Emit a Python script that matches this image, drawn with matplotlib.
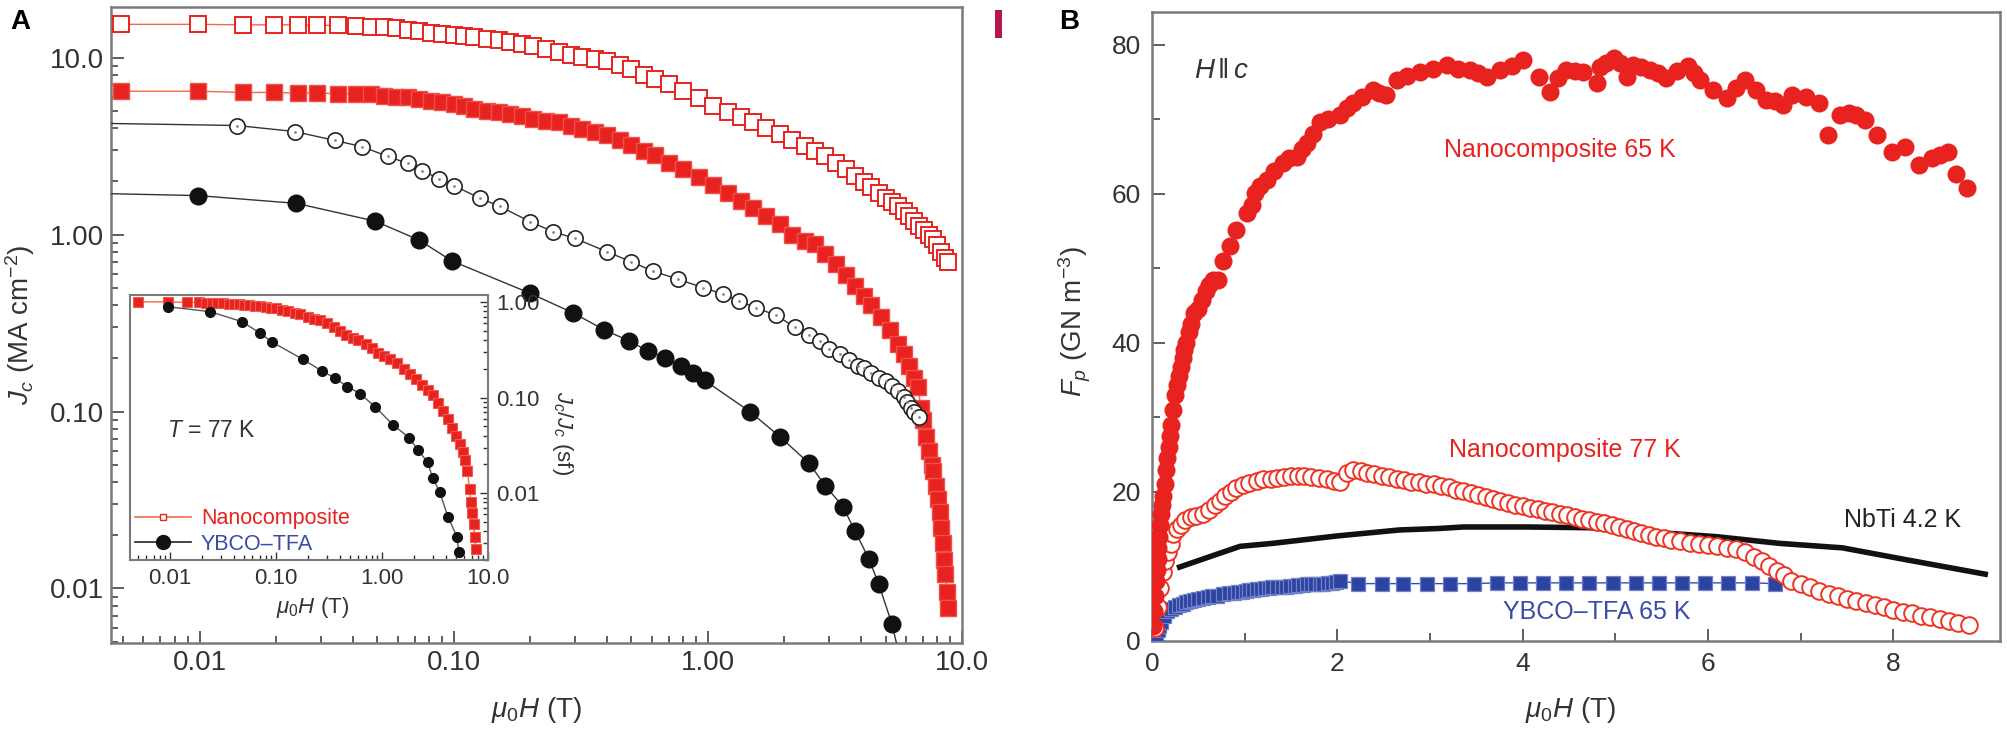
import matplotlib
matplotlib.use("Agg")
import matplotlib.pyplot as plt
from matplotlib import font_manager
from matplotlib.lines import Line2D
from matplotlib.patches import Rectangle
from matplotlib.ticker import LogLocator, NullFormatter, FixedLocator

# ---------------- fonts ----------------
def _has(fam):
    try:
        font_manager.findfont(font_manager.FontProperties(family=fam), fallback_to_default=False)
        return True
    except Exception:
        return False

NARROW = "Liberation Sans Narrow" if _has("Liberation Sans Narrow") else "Liberation Sans"
plt.rcParams['font.family'] = [NARROW, 'DejaVu Sans']
plt.rcParams['mathtext.fontset'] = 'custom'
plt.rcParams['mathtext.rm'] = NARROW
plt.rcParams['mathtext.it'] = NARROW + ':italic'
plt.rcParams['mathtext.bf'] = NARROW + ':bold'

# ---------------- data: panel A (main) ----------------
# Nanocomposite, 65 K (open red squares)
H_nano65 = [0.0049, 0.0098, 0.0148, 0.0196, 0.0243, 0.029, 0.035, 0.041, 0.047, 0.053, 0.059, 0.066,
            0.073, 0.081, 0.09, 0.10, 0.11, 0.12, 0.135, 0.15, 0.166, 0.185, 0.205, 0.23, 0.26, 0.29,
            0.32, 0.36, 0.40, 0.45, 0.50, 0.56, 0.62, 0.70, 0.80, 0.92, 1.05, 1.2, 1.35, 1.5, 1.7,
            1.92, 2.15, 2.4, 2.65, 2.9, 3.2, 3.5, 3.8, 4.1, 4.4, 4.7, 5.0, 5.3, 5.6, 5.9, 6.2, 6.5,
            6.8, 7.1, 7.4, 7.7, 8.0, 8.3, 8.6, 8.8]
Jc_nano65 = [15.4, 15.4, 15.3, 15.3, 15.3, 15.2, 15.2, 15.1, 14.9, 14.8, 14.6, 14.4,
             14.1, 13.8, 13.6, 13.4, 13.2, 13.0, 12.7, 12.5, 12.3, 11.9, 11.6, 11.2, 10.8, 10.4,
             10.1, 9.8, 9.5, 9.1, 8.6, 8.0, 7.6, 7.1, 6.5, 5.9, 5.35, 4.9, 4.6, 4.3, 4.0,
             3.7, 3.4, 3.15, 2.95, 2.78, 2.55, 2.35, 2.15, 1.99, 1.85, 1.72, 1.61, 1.52, 1.44, 1.35, 1.27, 1.19,
             1.12, 1.06, 1.0, 0.94, 0.87, 0.80, 0.74, 0.70]

# Nanocomposite, 77 K (filled red squares)
H_nano77 = [0.0049, 0.0098, 0.0148, 0.0196, 0.0243, 0.029, 0.035, 0.041, 0.047, 0.053, 0.059, 0.066,
            0.073, 0.081, 0.09, 0.10, 0.11, 0.12, 0.135, 0.15, 0.166, 0.185, 0.205, 0.23, 0.26, 0.29,
            0.32, 0.36, 0.40, 0.45, 0.50, 0.56, 0.62, 0.70, 0.80, 0.92, 1.05, 1.2, 1.35, 1.5, 1.7,
            1.92, 2.15, 2.4, 2.65, 2.9, 3.2, 3.5, 3.8, 4.1, 4.4, 4.8, 5.2, 5.6, 5.9, 6.2, 6.5, 6.7,
            6.9, 7.0, 7.2, 7.4, 7.6, 7.7, 7.9, 8.05, 8.2, 8.3, 8.4, 8.5, 8.6, 8.7, 8.8]
Jc_nano77 = [6.45, 6.45, 6.35, 6.35, 6.3, 6.3, 6.25, 6.25, 6.2, 6.1, 6.0, 5.95,
             5.85, 5.7, 5.6, 5.45, 5.3, 5.15, 5.0, 4.9, 4.8, 4.65, 4.5, 4.4, 4.3, 4.1,
             3.95, 3.8, 3.65, 3.4, 3.2, 2.95, 2.8, 2.55, 2.35, 2.1, 1.9, 1.72, 1.55, 1.42, 1.27,
             1.15, 1.0, 0.92, 0.88, 0.78, 0.68, 0.59, 0.51, 0.45, 0.40, 0.34, 0.29, 0.24, 0.21, 0.18, 0.155, 0.137,
             0.105, 0.089, 0.072, 0.06, 0.05, 0.046, 0.038, 0.032, 0.027, 0.022, 0.018, 0.0145, 0.012, 0.0095, 0.0078]

# YBCO-TFA, 65 K (open black circles); first point = line start only
H_ybco65 = [0.0045, 0.014, 0.0236, 0.034, 0.0434, 0.055, 0.066, 0.075, 0.087, 0.10, 0.127, 0.152, 0.20,
            0.245, 0.30, 0.40, 0.50, 0.61, 0.76, 0.96, 1.15, 1.33, 1.55, 1.85, 2.2, 2.5, 2.75, 3.0,
            3.3, 3.6, 3.9, 4.1, 4.4, 4.7, 5.0, 5.3, 5.6, 5.9, 6.1, 6.3, 6.5, 6.8]
Jc_ybco65 = [4.24, 4.13, 3.82, 3.4, 3.14, 2.76, 2.52, 2.3, 2.07, 1.89, 1.6, 1.44, 1.18,
             1.04, 0.95, 0.80, 0.70, 0.62, 0.56, 0.50, 0.46, 0.42, 0.385, 0.35, 0.30, 0.27, 0.25, 0.225,
             0.21, 0.195, 0.18, 0.175, 0.165, 0.155, 0.148, 0.14, 0.13, 0.12, 0.113, 0.105, 0.10, 0.093]

# YBCO-TFA, 77 K (filled black circles); first point = line start, last = line end
H_ybco77 = [0.0045, 0.0098, 0.024, 0.049, 0.073, 0.098, 0.20, 0.295, 0.39, 0.49, 0.58, 0.68, 0.78,
            0.87, 0.97, 1.46, 1.92, 2.5, 2.9, 3.4, 3.8, 4.3, 4.7, 5.3, 5.6]
Jc_ybco77 = [1.70, 1.66, 1.5, 1.19, 0.93, 0.71, 0.465, 0.36, 0.29, 0.25, 0.22, 0.20, 0.18,
             0.164, 0.15, 0.10, 0.072, 0.051, 0.038, 0.029, 0.021, 0.0147, 0.0106, 0.0063, 0.0045]

# ---------------- data: panel A (inset, T = 77 K, normalised) ----------------
H_in_nano = [0.005, 0.0096, 0.0145, 0.019, 0.022, 0.025, 0.028, 0.032, 0.036, 0.04, 0.045, 0.05, 0.056,
             0.063, 0.07, 0.08, 0.09, 0.1, 0.115, 0.13, 0.15, 0.17, 0.2, 0.23, 0.26, 0.3, 0.35, 0.4,
             0.46, 0.53, 0.6, 0.7, 0.8, 0.92, 1.05, 1.2, 1.4, 1.6, 1.85, 2.1, 2.4, 2.7, 3.0, 3.4, 3.8,
             4.2, 4.6, 5.0, 5.4, 5.8, 6.1, 6.4, 6.7, 6.9, 7.1, 7.3, 7.5, 7.7]
r_in_nano = [1.0, 1.0, 0.99, 0.99, 0.98, 0.98, 0.97, 0.97, 0.96, 0.95, 0.94, 0.93, 0.92,
             0.91, 0.9, 0.88, 0.87, 0.86, 0.83, 0.8, 0.77, 0.74, 0.7, 0.67, 0.64, 0.6, 0.55, 0.5,
             0.45, 0.42, 0.4, 0.36, 0.33, 0.29, 0.27, 0.25, 0.23, 0.2, 0.175, 0.155, 0.135, 0.12, 0.105, 0.088, 0.072,
             0.06, 0.048, 0.04, 0.033, 0.027, 0.022, 0.017, 0.011, 0.008, 0.0062, 0.0048, 0.0035, 0.0026]
H_in_ybco = [0.0095, 0.024, 0.048, 0.071, 0.092, 0.18, 0.27, 0.36, 0.47, 0.62, 0.86, 1.27, 1.8,
             2.2, 2.7, 3.0, 3.5, 4.2, 5.1, 5.3]
r_in_ybco = [0.89, 0.79, 0.62, 0.47, 0.38, 0.25, 0.19, 0.16, 0.13, 0.11, 0.08, 0.052, 0.038,
             0.028, 0.021, 0.0145, 0.0103, 0.0056, 0.0035, 0.0024]

# ---------------- data: panel B ----------------
# Nanocomposite 65 K (filled red circles)
H_fp65 = [0.01, 0.02, 0.03, 0.04, 0.05, 0.06, 0.07, 0.08, 0.09, 0.10, 0.11, 0.12, 0.135, 0.15, 0.165,
          0.18, 0.195, 0.21, 0.23, 0.25, 0.27, 0.29, 0.31, 0.33, 0.35, 0.37, 0.40, 0.42, 0.45, 0.50,
          0.54, 0.58, 0.62, 0.66, 0.71, 0.77, 0.84, 0.91, 1.02, 1.08, 1.11, 1.17, 1.24, 1.32, 1.41,
          1.48, 1.56, 1.62, 1.67, 1.74, 1.81, 1.9, 2.03, 2.1, 2.17, 2.27, 2.38, 2.45, 2.53, 2.64,
          2.75, 2.89, 3.03, 3.18, 3.3, 3.43, 3.52, 3.61, 3.75, 3.88, 4.0, 4.18, 4.29, 4.38, 4.47,
          4.56, 4.65, 4.8, 4.83, 4.9, 4.99, 5.05, 5.12, 5.19, 5.28, 5.37, 5.46, 5.55, 5.66, 5.78,
          5.85, 5.91, 6.05, 6.2, 6.3, 6.4, 6.52, 6.63, 6.72, 6.81, 6.91, 7.06, 7.2, 7.29, 7.42,
          7.52, 7.6, 7.69, 7.82, 7.99, 8.12, 8.28, 8.42, 8.5, 8.59, 8.68, 8.79]
Fp_fp65 = [2, 4, 6, 8, 9.5, 11, 12.5, 14, 15.5, 17, 18.3, 19.5, 21, 23, 24.5,
           26, 27.5, 29, 31, 33, 34.3, 35.5, 36.8, 38, 39, 40, 41.5, 42.5, 44, 44.5,
           45.8, 47, 47.8, 48.5, 48.5, 51, 53, 55.2, 57.4, 58.5, 60.1, 61, 61.9, 63, 64.2,
           64.8, 65, 66, 66.8, 68, 69.7, 70, 70.6, 71.5, 72.2, 73, 74, 73.5, 73.3, 75.3,
           75.8, 76.4, 76.8, 77.3, 76.8, 76.6, 76.2, 75.7, 76.6, 77.2, 78, 75.7, 73.7, 75.5, 76.6,
           76.5, 76.4, 74.9, 77, 77.6, 78.2, 77.5, 75.7, 77.3, 77, 76.6, 76.2, 75.6, 76.5, 77.1,
           76.2, 75.3, 74, 72.9, 74.2, 75.3, 74, 72.6, 72.4, 71.9, 73.3, 73, 72.2, 67.9, 70.6,
           70.8, 70.6, 69.9, 67.9, 65.6, 66.3, 63.9, 64.8, 65.2, 65.6, 62.6, 60.8]

# Nanocomposite 77 K (open red circles)
H_fp77 = [0.03, 0.06, 0.09, 0.12, 0.14, 0.17, 0.20, 0.23, 0.27, 0.31, 0.36, 0.42, 0.48, 0.55, 0.62,
          0.68, 0.73, 0.79, 0.85, 0.91, 0.98, 1.05, 1.13, 1.2, 1.28, 1.35, 1.42, 1.5, 1.57, 1.64,
          1.72, 1.8, 1.89, 1.96, 2.03, 2.1, 2.17, 2.25, 2.32, 2.4, 2.48, 2.56, 2.64, 2.72, 2.8,
          2.88, 2.96, 3.04, 3.12, 3.2, 3.28, 3.36, 3.44, 3.52, 3.6, 3.68, 3.76, 3.84, 3.92, 4.0,
          4.08, 4.16, 4.24, 4.32, 4.4, 4.48, 4.56, 4.64, 4.72, 4.8, 4.88, 4.96, 5.04, 5.12, 5.2,
          5.28, 5.36, 5.44, 5.52, 5.6, 5.7, 5.8, 5.9, 6.0, 6.1, 6.2, 6.3, 6.4, 6.5, 6.58,
          6.66, 6.74, 6.82, 6.9, 7.0, 7.1, 7.2, 7.3, 7.4, 7.5, 7.6, 7.7, 7.8, 7.9, 8.0,
          8.1, 8.2, 8.3, 8.4, 8.5, 8.6, 8.7, 8.82]
Fp_fp77 = [1.8, 4.5, 7.1, 9.3, 10.7, 12.0, 13.0, 14.4, 15.0, 15.6, 16.3, 16.6, 16.8, 17.0, 17.6,
           18.2, 18.8, 19.4, 20.0, 20.5, 20.9, 21.2, 21.5, 21.7, 21.8, 21.9, 22.0, 22.1, 22.2, 22.1,
           22.0, 21.9, 21.8, 21.5, 21.3, 22.6, 22.9, 22.8, 22.6, 22.4, 22.2, 22.0, 21.8, 21.6, 21.4,
           21.3, 21.1, 21.0, 20.8, 20.6, 20.3, 20.1, 19.8, 19.6, 19.3, 19.0, 18.8, 18.5, 18.3, 18.1,
           17.9, 17.7, 17.5, 17.3, 17.1, 16.9, 16.7, 16.4, 16.2, 16.0, 15.8, 15.5, 15.3, 15.0, 14.8,
           14.5, 14.2, 14.0, 13.8, 13.6, 13.4, 13.2, 13.0, 12.9, 12.7, 12.5, 12.3, 11.9, 11.3, 10.7,
           10.1, 9.4, 8.8, 8.1, 7.6, 7.2, 6.7, 6.3, 6.0, 5.7, 5.4, 5.1, 4.8, 4.5, 4.2,
           3.9, 3.7, 3.4, 3.2, 2.9, 2.7, 2.4, 2.1]

# NbTi 4.2 K (thick black line)
H_nbti = [0.27, 0.62, 0.95, 1.3, 2.0, 2.67, 3.1, 3.36, 4.04, 4.72, 5.4, 6.09, 6.77, 7.45, 8.14, 9.02]
Fp_nbti = [9.8, 11.3, 12.7, 13.1, 14.1, 14.9, 15.1, 15.3, 15.3, 15.2, 14.6, 14.0, 13.1, 12.5, 10.9, 8.9]

# YBCO-TFA 65 K (blue squares)
H_ybcoB = [0.02, 0.04, 0.06, 0.08, 0.10, 0.13, 0.16, 0.2, 0.25, 0.29, 0.33, 0.37, 0.41, 0.45, 0.5,
           0.55, 0.6, 0.65, 0.7, 0.77, 0.83, 0.88, 0.93, 0.97, 1.01, 1.05, 1.09, 1.13, 1.18, 1.22,
           1.26, 1.3, 1.35, 1.4, 1.45, 1.49, 1.54, 1.58, 1.63, 1.67, 1.72, 1.76, 1.81, 1.85, 1.9,
           1.94, 1.99, 2.03, 2.22, 2.48, 2.71, 2.97, 3.22, 3.47, 3.72, 3.97, 4.22, 4.47, 4.72,
           4.97, 5.22, 5.47, 5.72, 5.97, 6.22, 6.47, 6.72]
Fp_ybcoB = [0.6, 1.0, 1.5, 2.0, 2.6, 3.3, 4.0, 4.3, 4.6, 4.8, 5.0, 5.2, 5.4, 5.5, 5.7,
            5.8, 5.9, 6.0, 6.1, 6.3, 6.4, 6.5, 6.6, 6.6, 6.7, 6.8, 6.9, 7.0, 7.0, 7.1,
            7.1, 7.2, 7.2, 7.3, 7.3, 7.4, 7.4, 7.5, 7.5, 7.6, 7.6, 7.6, 7.7, 7.7, 7.8,
            7.8, 7.9, 8.1, 7.7, 7.7, 7.7, 7.7, 7.7, 7.7, 7.8, 7.8, 7.8, 7.8, 7.8,
            7.8, 7.8, 7.8, 7.8, 7.8, 7.8, 7.8, 7.7]

# ---------------- styles ----------------
RED = '#e8231f'
RED_LINE = '#f06a48'
BLUE = '#2d43a0'
BLUE_TXT = '#3a4ca8'
SPINE = '#7a7a7a'
W, Hpx = 2008, 731

fig = plt.figure(figsize=(W / 100, Hpx / 100), dpi=100)


def box(l, r, t, b):
    return [l / W, 1 - b / Hpx, (r - l) / W, (b - t) / Hpx]


# ================= Panel A =================
axA = fig.add_axes(box(111, 962, 7, 643))
axA.set_xscale('log')
axA.set_yscale('log')

axA.plot(H_nano65, Jc_nano65, '-', color=RED_LINE, lw=1.0, marker='s', ms=11.5, mfc='white',
         mec=RED, mew=1.4, zorder=3)
axA.plot(H_nano77, Jc_nano77, '-', color=RED_LINE, lw=1.0, marker='s', ms=11, mfc=RED,
         mec='#f2504a', mew=1.0, zorder=3)
axA.plot(H_ybco65, Jc_ybco65, '-', color='#333333', lw=1.0, marker='o', ms=11, mfc='white',
         mec='#222222', mew=1.2, markevery=slice(1, None), zorder=3)
axA.plot(H_ybco65[1:], Jc_ybco65[1:], ls='none', marker='.', ms=2, color='#888888', zorder=4)
axA.plot(H_ybco77, Jc_ybco77, '-', color='#333333', lw=1.0, marker='o', ms=12, mfc='#111111',
         mec='#111111', markevery=slice(1, -1), zorder=3)

axA.set_xlim(0.00447, 10.0)
axA.set_ylim(0.00492, 19.3)
axA.xaxis.set_major_locator(FixedLocator([0.01, 0.1, 1, 10]))
axA.set_xticklabels(['0.01', '0.10', '1.00', '10.0'])
axA.yaxis.set_major_locator(FixedLocator([0.01, 0.1, 1, 10]))
axA.set_yticklabels(['0.01', '0.10', '1.00', '10.0'])
for axis in (axA.xaxis, axA.yaxis):
    axis.set_minor_locator(LogLocator(base=10, subs=range(2, 10), numticks=20))
    axis.set_minor_formatter(NullFormatter())
axA.tick_params(which='both', direction='in', colors='#333333', labelsize=20,
                top=False, right=False, width=1.1)
axA.tick_params(which='major', length=9, pad=5)
axA.tick_params(which='minor', length=5)
for s in axA.spines.values():
    s.set_color(SPINE)
    s.set_linewidth(1.8)
axA.set_xlabel(r'$\mu_0H$ (T)', fontsize=20, color='#333333')
axA.set_ylabel(r'$J_c$ (MA cm$^{-2}$)', fontsize=20, color='#333333')
axA.xaxis.set_label_coords(0.50, -0.105)
axA.yaxis.set_label_coords(-0.107, 0.5)
axA.xaxis.label.set_va('center')
axA.yaxis.label.set_va('center')

# ---------------- inset ----------------
axI = fig.add_axes(box(130, 488, 295, 560))
axI.set_xscale('log')
axI.set_yscale('log')
axI.plot(H_in_nano, r_in_nano, '-', color=RED_LINE, lw=1.0, marker='s', ms=6.5, mfc=RED,
         mec='#f05a50', mew=0.8, zorder=3)
axI.plot(H_in_ybco, r_in_ybco, '-', color='#555555', lw=1.0, marker='o', ms=7, mfc='#111111',
         mec='#111111', zorder=3)
axI.set_xlim(0.0042, 10.0)
axI.set_ylim(0.002, 1.18)
axI.xaxis.set_major_locator(FixedLocator([0.01, 0.1, 1, 10]))
axI.set_xticklabels(['0.01', '0.10', '1.00', '10.0'])
axI.yaxis.set_major_locator(FixedLocator([0.01, 0.1, 1]))
axI.set_yticklabels(['0.01', '0.10', '1.00'])
for axis in (axI.xaxis, axI.yaxis):
    axis.set_minor_locator(LogLocator(base=10, subs=range(2, 10), numticks=20))
    axis.set_minor_formatter(NullFormatter())
axI.yaxis.tick_right()
axI.tick_params(which='both', direction='in', colors='#333333', labelsize=16, width=1.0,
                left=False, top=False, right=True, labelright=True, labelleft=False)
axI.tick_params(which='major', length=6, pad=6)
axI.tick_params(which='minor', length=3.5)
for s in axI.spines.values():
    s.set_color(SPINE)
    s.set_linewidth(1.5)
axI.set_xlabel(r'$\mu_0H$ (T)', fontsize=16, color='#333333')
axI.xaxis.set_label_coords(0.51, -0.181)
axI.xaxis.label.set_va('center')
axI.yaxis.set_label_position('right')
axI.set_ylabel(r'$J_c/J_c$ (sf)', fontsize=16, color='#333333', rotation=270)
axI.yaxis.set_label_coords(1.209, 0.479)
axI.yaxis.label.set_va('center')
axI.text(0.228, 0.49, r'$T$ = 77 K', transform=axI.transAxes, fontsize=16.5, color='#333333',
         ha='center', va='center')
handles = [Line2D([], [], color=RED_LINE, lw=1.2, marker='s', ms=5, mfc='white', mec=RED),
           Line2D([], [], color='#222222', lw=1.2, marker='o', ms=10, mfc='#111111', mec='#111111')]
leg = axI.legend(handles, ['Nanocomposite', 'YBCO\u2013TFA'], loc='lower left',
                 bbox_to_anchor=(0.015, 0.02), frameon=False, fontsize=15.5, handlelength=2.6,
                 handletextpad=0.45, labelspacing=0.2, borderpad=0, borderaxespad=0,
                 labelcolor=[RED, BLUE_TXT])

# ================= Panel B =================
axB = fig.add_axes(box(1152, 2000, 12, 641))
axB.plot(H_nbti, Fp_nbti, '-', color='#111111', lw=4.0, solid_capstyle='butt', zorder=2)
axB.plot(H_ybcoB, Fp_ybcoB, '-', color=BLUE_TXT, lw=1.0, marker='s', ms=10, mfc=BLUE,
         mec='#6f82c8', mew=0.9, zorder=3)
axB.plot(H_fp77, Fp_fp77, ls='none', marker='o', ms=12, mfc='white', mec='#ee3322', mew=1.4,
         zorder=4)
axB.plot(H_fp65, Fp_fp65, ls='none', marker='o', ms=13, mfc=RED, mec=RED, mew=0, zorder=5)
axB.set_xlim(0, 9.15)
axB.set_ylim(0, 84.4)
axB.set_xticks([0, 2, 4, 6, 8])
axB.set_xticks([1, 3, 5, 7], minor=True)
axB.set_yticks([0, 20, 40, 60, 80])
axB.set_yticks([10, 30, 50, 70], minor=True)
axB.tick_params(which='both', direction='in', colors='#333333', labelsize=19, width=1.1,
                top=False, right=False)
axB.tick_params(which='major', length=9, pad=8)
axB.tick_params(which='minor', length=6)
for s in axB.spines.values():
    s.set_color(SPINE)
    s.set_linewidth(1.8)
axB.set_xlabel(r'$\mu_0H$ (T)', fontsize=20, color='#333333')
axB.set_ylabel(r'$F_p$ (GN m$^{-3}$)', fontsize=20, color='#333333')
axB.xaxis.set_label_coords(0.494, -0.11)
axB.yaxis.set_label_coords(-0.091, 0.507)
axB.xaxis.label.set_va('center')
axB.yaxis.label.set_va('center')

axB.text(0.75, 76.5, r'$H\,\|\,c$', fontsize=20, color='#333333', ha='center', va='center')
axB.text(4.4, 65.9, 'Nanocomposite 65 K', fontsize=18, color=RED, ha='center', va='center')
axB.text(4.45, 25.6, 'Nanocomposite 77 K', fontsize=18, color=RED, ha='center', va='center')
axB.text(8.1, 16.2, 'NbTi 4.2 K', fontsize=18, color='#222222', ha='center', va='center')
axB.text(4.8, 3.9, 'YBCO\u2013TFA 65 K', fontsize=18, color=BLUE_TXT, ha='center', va='center')

# panel letters and the small bar
fig.text(20 / W, 1 - 22 / Hpx, 'A', fontsize=20, fontweight='bold', family='Liberation Sans',
         ha='center', va='center')
fig.text(1069 / W, 1 - 22 / Hpx, 'B', fontsize=20, fontweight='bold', family='Liberation Sans',
         ha='center', va='center')
fig.add_artist(Rectangle((995 / W, 1 - 38 / Hpx), 7 / W, 28 / Hpx, transform=fig.transFigure,
                         color='#b5174a', lw=0))

fig.savefig('out.png', dpi=100)
